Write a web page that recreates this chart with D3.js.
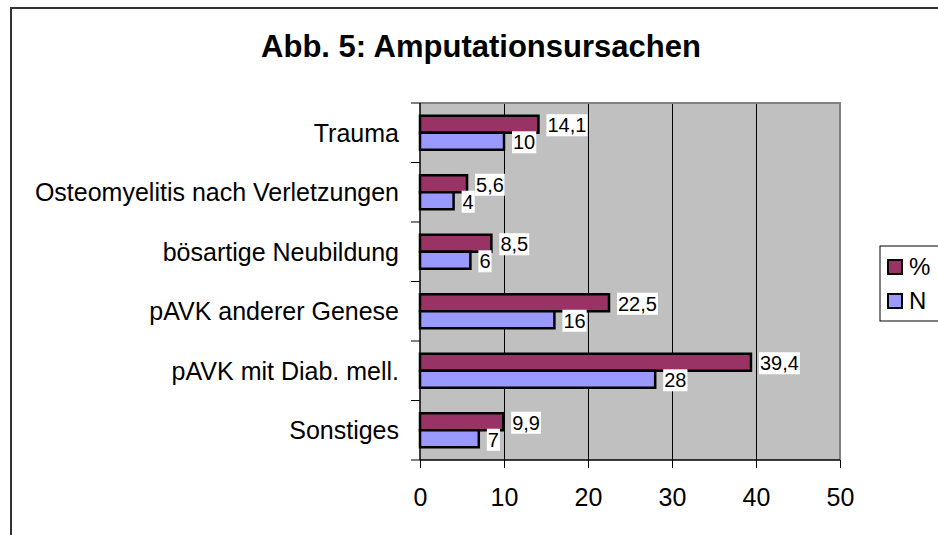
<!DOCTYPE html>
<html><head><meta charset="utf-8">
<script src="https://cdn.jsdelivr.net/npm/d3@7"></script>
<style>
body{margin:0;background:#fff;overflow:hidden}
svg{display:block}
text{font-family:"Liberation Sans",Arial,sans-serif;fill:#000}
</style>
</head><body><svg id="c" width="938" height="535"></svg>
<script>
const title = "Abb. 5: Amputationsursachen";
const categories = ["Trauma","Osteomyelitis nach Verletzungen","bösartige Neubildung","pAVK anderer Genese","pAVK mit Diab. mell.","Sonstiges"];
const pctValues = [14.1, 5.6, 8.5, 22.5, 39.4, 9.9];
const nValues = [10, 4, 6, 16, 28, 7];
const seriesNames = ["%", "N"];
const seriesColors = ["#993366", "#9999FF"];
const xTicks = [0, 10, 20, 30, 40, 50];

const svg = d3.select("#c");
const fmt = v => String(v).replace(".", ",");

// outer frame
svg.append("rect").attr("x", 11).attr("y", 8).attr("width", 960).attr("height", 560)
  .attr("fill", "#fff").attr("stroke", "#333").attr("stroke-width", 2);

// title
svg.append("text").attr("x", 481).attr("y", 57).attr("text-anchor", "middle")
  .style("font-size", "31px").style("font-weight", "bold").text(title);

const m = {left: 420, right: 840, top: 103, bottom: 460};
const x = d3.scaleLinear().domain([0, 50]).range([m.left, m.right]);
const y = d3.scaleBand().domain(categories).range([m.top, m.bottom]);
const barH = y.bandwidth() / 3.5;

// plot background
svg.append("rect").attr("x", m.left).attr("y", m.top)
  .attr("width", m.right - m.left).attr("height", m.bottom - m.top).attr("fill", "#C0C0C0");

// gridlines
svg.append("g").selectAll("line").data(xTicks.filter(t => t > 0 && t < 50)).join("line")
  .attr("x1", d => x(d)).attr("x2", d => x(d)).attr("y1", m.top).attr("y2", m.bottom)
  .attr("stroke", "#000").attr("stroke-width", 1).attr("shape-rendering", "crispEdges");

// plot border top/right
svg.append("path").attr("d", `M${m.left},${m.top}H${m.right}V${m.bottom}`)
  .attr("fill", "none").attr("stroke", "#808080").attr("stroke-width", 2);

// bars
const rows = categories.map((c, i) => ({c, vals: [pctValues[i], nValues[i]]}));
const g = svg.append("g");
rows.forEach(r => {
  const y0 = y(r.c) + (y.bandwidth() - 2 * barH) / 2;
  r.vals.forEach((v, k) => {
    g.append("rect").attr("x", x(0)).attr("y", y0 + k * barH)
      .attr("width", x(v) - x(0)).attr("height", barH)
      .attr("fill", seriesColors[k]).attr("stroke", "#000").attr("stroke-width", 2.5);
  });
});

// axes
const xAxis = d3.axisBottom(x).tickValues(xTicks).tickSize(8).tickPadding(20).tickFormat(d => d);
const ax = svg.append("g").attr("transform", `translate(0,${m.bottom})`).call(xAxis);
ax.select(".domain").remove();
ax.selectAll("line").attr("stroke", "#000");
ax.selectAll("text").style("font-size", "25px").attr("font-family", null);
svg.append("line").attr("x1", m.left).attr("x2", m.right).attr("y1", m.bottom).attr("y2", m.bottom)
  .attr("stroke", "#000").attr("stroke-width", 1.5);

// y axis line and boundary ticks
svg.append("line").attr("x1", m.left).attr("x2", m.left).attr("y1", m.top).attr("y2", m.bottom)
  .attr("stroke", "#000").attr("stroke-width", 1.5);
svg.append("g").selectAll("line").data(d3.range(categories.length + 1)).join("line")
  .attr("x1", m.left - 9).attr("x2", m.left)
  .attr("y1", i => m.top + i * y.step()).attr("y2", i => m.top + i * y.step())
  .attr("stroke", "#000").attr("stroke-width", 1);

// category labels
svg.append("g").selectAll("text").data(categories).join("text")
  .attr("x", 399).attr("y", d => y(d) + y.bandwidth() / 2).attr("dy", "0.35em")
  .attr("text-anchor", "end").style("font-size", "25px").text(d => d);

// data labels
const lg = svg.append("g");
rows.forEach(r => {
  const y0 = y(r.c) + (y.bandwidth() - 2 * barH) / 2;
  r.vals.forEach((v, k) => {
    const gg = lg.append("g");
    const t = gg.append("text").attr("x", x(v) + 9).attr("y", y0 + k * barH + barH / 2 + 1)
      .attr("dy", "0.35em").style("font-size", "20px").text(fmt(v));
    const b = t.node().getBBox();
    gg.insert("rect", "text").attr("x", b.x - 1).attr("y", b.y).attr("width", b.width + 2)
      .attr("height", b.height).attr("fill", "#fff");
  });
});

// legend
const leg = svg.append("g");
leg.append("rect").attr("x", 880).attr("y", 246).attr("width", 80).attr("height", 75)
  .attr("fill", "#fff").attr("stroke", "#000").attr("stroke-width", 1);
seriesNames.forEach((s, i) => {
  const cy = 267 + i * 34;
  leg.append("rect").attr("x", 888).attr("y", cy - 7).attr("width", 14).attr("height", 14)
    .attr("fill", seriesColors[i]).attr("stroke", "#000").attr("stroke-width", 2);
  leg.append("text").attr("x", 909).attr("y", cy).attr("dy", "0.35em")
    .style("font-size", "24px").text(s);
});
</script>
</body></html>
